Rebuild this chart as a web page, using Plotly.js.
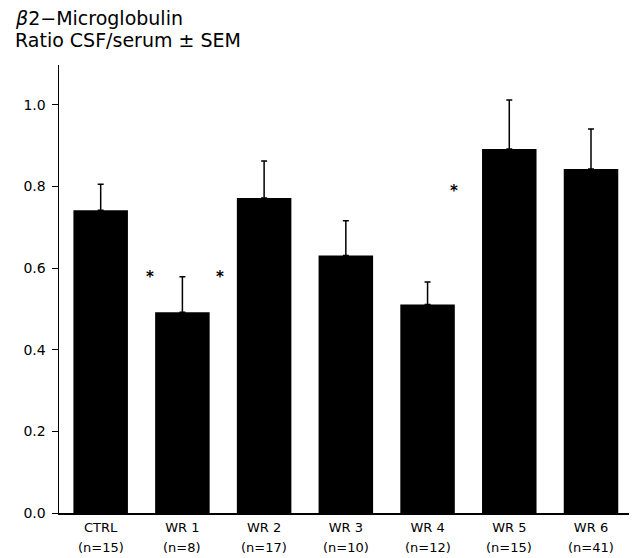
<!DOCTYPE html>
<html>
<head>
<meta charset="utf-8">
<script src="https://cdn.plot.ly/plotly-3.0.1.min.js"></script>
<style>html,body{margin:0;padding:0;background:#fff;}#chart{width:633px;height:558px;}</style>
</head>
<body>
<div id="chart"></div>
<script>
const categories = ["CTRL", "WR 1", "WR 2", "WR 3", "WR 4", "WR 5", "WR 6"];
const nLabels = ["(n=15)", "(n=8)", "(n=17)", "(n=10)", "(n=12)", "(n=15)", "(n=41)"];
const ratioMeans = [0.742, 0.492, 0.772, 0.631, 0.511, 0.892, 0.843];
const semUpper = [0.064, 0.087, 0.091, 0.085, 0.055, 0.120, 0.098];
const asteriskX = [0.6, 1.46, 4.32];
const asteriskY = [0.579, 0.579, 0.79];
const yTickVals = [0.0, 0.2, 0.4, 0.6, 0.8, 1.0];
const yTickText = ["0.0", "0.2", "0.4", "0.6", "0.8", "1.0"];
const titleLines = ["<i>β</i>2−Microglobulin", "Ratio CSF/serum ± SEM"];

const font = "DejaVu Sans, Arial, sans-serif";
const idx = categories.map((c, i) => i);

const trace = {
  type: "bar",
  x: idx,
  y: ratioMeans,
  width: 0.667,
  marker: {color: "#000000", line: {width: 0}},
  error_y: {
    type: "data",
    symmetric: false,
    array: semUpper,
    arrayminus: semUpper.map(() => 0),
    color: "#000000",
    thickness: 1.5,
    width: 3
  },
  hoverinfo: "none"
};

const annotations = asteriskX.map((x, i) => ({
  x: x, y: asteriskY[i], xref: "x", yref: "y",
  text: "<b>*</b>", showarrow: false,
  font: {family: font, size: 15, color: "#000000"},
  xanchor: "center", yanchor: "middle"
}));

// n labels under category labels
nLabels.forEach((t, i) => annotations.push({
  x: idx[i], y: -0.078, xref: "x", yref: "paper",
  text: t, showarrow: false,
  font: {family: font, size: 13, color: "#000"},
  xanchor: "center", yanchor: "middle"
}));

// title lines (left edge at 13 px from the page)
const titleX = (13 - 59) / 570;
annotations.push({
  x: titleX, xref: "paper", y: 1.105, yref: "paper",
  text: titleLines[0], showarrow: false, xanchor: "left", yanchor: "middle",
  font: {family: font, size: 19, color: "#000"}
});
annotations.push({
  x: titleX, xref: "paper", y: 1.056, yref: "paper",
  text: titleLines[1], showarrow: false, xanchor: "left", yanchor: "middle",
  font: {family: font, size: 19, color: "#000"}
});

const layout = {
  width: 633, height: 558,
  margin: {l: 59, r: 4, t: 65, b: 45, pad: 0},
  paper_bgcolor: "#ffffff", plot_bgcolor: "#ffffff",
  showlegend: false,
  xaxis: {
    range: [-0.51, 6.465],
    tickmode: "array",
    tickvals: idx,
    ticktext: categories,
    ticks: "", showgrid: false, zeroline: false,
    showline: true, linecolor: "#000", linewidth: 1.5,
    tickfont: {family: font, size: 13, color: "#000"},
    ticklabelstandoff: 2,
    fixedrange: true
  },
  yaxis: {
    range: [0, 1.098],
    tickmode: "array",
    tickvals: yTickVals,
    ticktext: yTickText,
    ticks: "outside", ticklen: 6, tickwidth: 1, tickcolor: "#000",
    showgrid: false, zeroline: false,
    showline: true, linecolor: "#000", linewidth: 1.5,
    tickfont: {family: font, size: 14, color: "#000"},
    ticklabelstandoff: 3,
    fixedrange: true
  },
  annotations: annotations
};

Plotly.newPlot("chart", [trace], layout, {staticPlot: true, displayModeBar: false});
</script>
</body>
</html>
